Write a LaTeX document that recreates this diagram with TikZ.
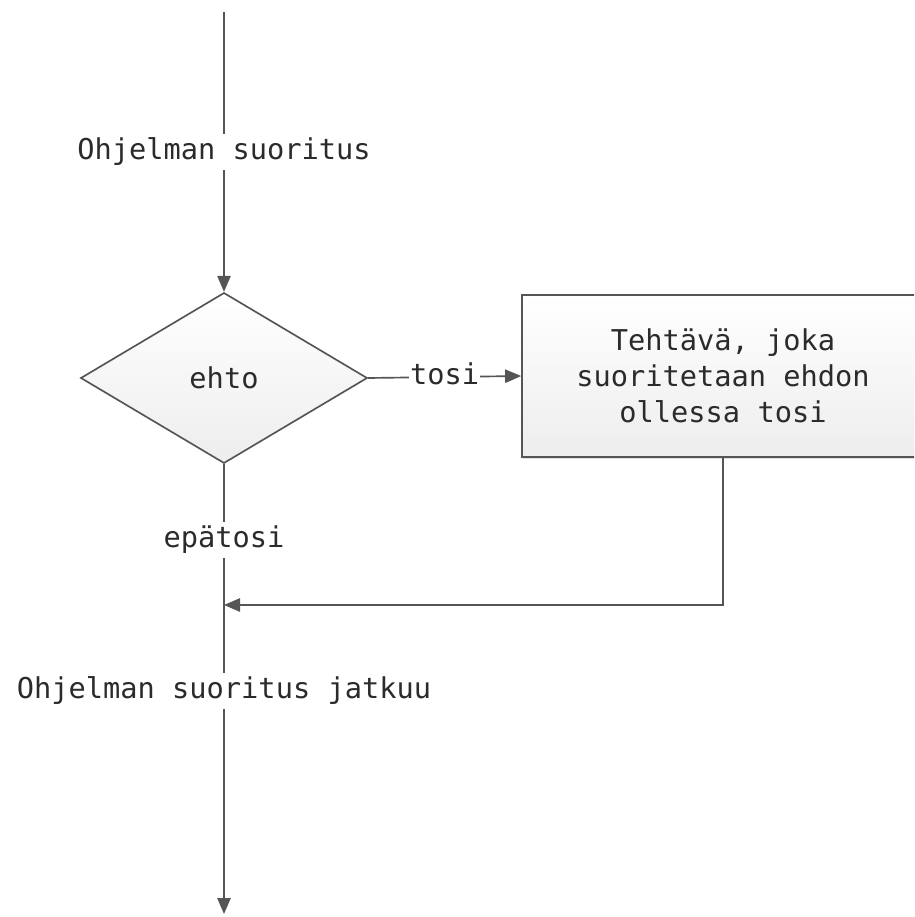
\documentclass[tikz,border=0pt]{standalone}
\usepackage{fontspec}
\setmonofont{DejaVu Sans Mono}
\usetikzlibrary{shapes.geometric,arrows.meta,shadows}
\definecolor{linegray}{HTML}{555555}
\definecolor{textgray}{HTML}{2B2B2B}
\tikzset{
  flowline/.style={draw=linegray, line width=1.25pt},
  flowarrow/.style={flowline, -{Triangle[length=12pt,width=10pt]}},
  shapefill/.style={top color=white, bottom color=gray!14, draw=linegray, line width=1.25pt},
  decision/.style={shapefill, diamond, minimum width=215pt, minimum height=128pt, aspect=1.68, inner sep=0pt},
  taskbox/.style={shapefill, rectangle, minimum width=301.5pt, minimum height=121.5pt,
    align=center, drop shadow={shadow xshift=1pt, shadow yshift=-1.5pt, opacity=0.25}},
  flowlabel/.style={fill=white, inner sep=3pt, text height=16pt, text depth=5pt},
}
\begin{document}
\begin{tikzpicture}[x=0.75pt, y=-0.75pt, font=\ttfamily\fontsize{21.5}{27}\selectfont, text=textgray]
  \useasboundingbox (0,0) rectangle (914,917);
  \clip (0,0) rectangle (914,917);

  % program flow nodes
  \coordinate (start) at (224,12);
  \node[flowlabel] (run) at (224,152) {Ohjelman suoritus};
  \node[decision] (cond) at (224,378) {ehto};
  \node[taskbox] (task) at (723,376) {Tehtävä, joka\\suoritetaan ehdon\\ollessa tosi};
  \node[flowlabel] (false) at (224,540) {epätosi};
  \coordinate (join) at (224,605);
  \node[flowlabel] (cont) at (224,691) {Ohjelman suoritus jatkuu};
  \coordinate (finish) at (224,914);

  % connectors
  \draw[flowline] (start) -- (run);
  \draw[flowarrow] (run) -- (cond);
  \draw[flowarrow] (cond.east) -- node[fill=white, inner sep=0.5pt, text height=16pt, text depth=5pt] (true) {tosi} (task.west);
  \draw[flowline] (cond.south) -- (false);
  \draw[flowline] (false) -- (cont);
  \draw[flowarrow] (task.south) |- (join);
  \draw[flowarrow] (cont) -- (finish);
\end{tikzpicture}
\end{document}
